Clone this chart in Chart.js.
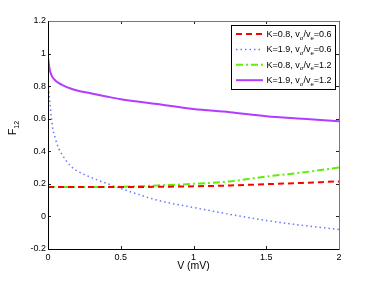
<!DOCTYPE html>
<html>
<head>
<meta charset="utf-8">
<script src="https://cdn.jsdelivr.net/npm/chart.js"></script>
<style>
  html, body { margin: 0; padding: 0; background: #fff; }
  #wrap { width: 374px; height: 281px; }
</style>
</head>
<body>
<div id="wrap"><canvas id="fChart" width="374" height="281"></canvas></div>
<script>
// Voltage samples (mV), denser near zero where the curves bend
const vPoints = [0, 0.005, 0.015, 0.03, 0.05, 0.075, 0.1, 0.15, 0.2, 0.3, 0.4, 0.5, 0.75, 1, 1.25, 1.5, 1.75, 2];

// F12 values
const redValues = [0.18, 0.18, 0.18, 0.18, 0.18, 0.18, 0.18, 0.18, 0.18, 0.18, 0.18, 0.18, 0.182, 0.185, 0.19, 0.198, 0.206, 0.215];
const blueValues = [0.85, 0.78, 0.68, 0.555, 0.48, 0.415, 0.375, 0.315, 0.28, 0.238, 0.204, 0.172, 0.1, 0.055, 0.013, -0.025, -0.055, -0.08];
const greenValues = [0.18, 0.18, 0.18, 0.18, 0.18, 0.18, 0.18, 0.18, 0.18, 0.18, 0.181, 0.182, 0.19, 0.2, 0.215, 0.245, 0.27, 0.3];
const purpleValues = [0.98, 0.94, 0.89, 0.857, 0.835, 0.818, 0.806, 0.787, 0.773, 0.755, 0.737, 0.72, 0.69, 0.66, 0.64, 0.615, 0.6, 0.585];

const seriesK = ["0.8", "1.9", "0.8", "1.9"];
const seriesRatio = ["0.6", "0.6", "1.2", "1.2"];

const xTicks = [0, 0.5, 1, 1.5, 2];
const yTicks = [-0.2, 0, 0.2, 0.4, 0.6, 0.8, 1, 1.2];

const FONT = "'Liberation Sans', Arial, sans-serif";

function toPoints(values) {
  return values.map((y, i) => ({ x: vPoints[i], y: y }));
}

// MATLAB style numbers: 1 not 1.0, 0.5 not .5
function fmt(v) {
  return String(Math.round(v * 10) / 10);
}

// Frame, inward ticks, axis titles and the legend
const matlabDecor = {
  id: "matlabDecor",
  afterDraw(chart) {
    const ctx = chart.ctx;
    const a = chart.chartArea;
    const xs = chart.scales.x;
    const ys = chart.scales.y;
    const tl = 3;

    ctx.save();
    ctx.lineWidth = 1;

    // ticks
    ctx.strokeStyle = "#222";
    ctx.beginPath();
    xTicks.forEach((v) => {
      const px = Math.round(xs.getPixelForValue(v)) + 0.5;
      ctx.moveTo(px, a.bottom);
      ctx.lineTo(px, a.bottom - tl);
      ctx.moveTo(px, a.top);
      ctx.lineTo(px, a.top + tl);
    });
    yTicks.forEach((v) => {
      const py = Math.round(ys.getPixelForValue(v)) + 0.5;
      ctx.moveTo(a.left, py);
      ctx.lineTo(a.left + tl, py);
      ctx.moveTo(a.right, py);
      ctx.lineTo(a.right - tl, py);
    });
    ctx.stroke();

    // frame
    const L = Math.round(a.left) + 0.5;
    const R = Math.round(a.right) + 0.5;
    const T = Math.round(a.top) + 0.5;
    const B = Math.round(a.bottom) + 0.5;
    ctx.strokeStyle = "#777";
    ctx.beginPath();
    ctx.moveTo(L, T);
    ctx.lineTo(R, T);
    ctx.lineTo(R, B);
    ctx.stroke();
    ctx.strokeStyle = "#000";
    ctx.beginPath();
    ctx.moveTo(L, T);
    ctx.lineTo(L, B);
    ctx.lineTo(R, B);
    ctx.stroke();

    // x title
    ctx.fillStyle = "#000";
    ctx.font = "10.5px " + FONT;
    ctx.textAlign = "center";
    ctx.textBaseline = "middle";
    ctx.fillText("V (mV)", (a.left + a.right) / 2, 266);

    // y title F_12
    ctx.save();
    ctx.translate(16, 128);
    ctx.rotate(-Math.PI / 2);
    ctx.textAlign = "left";
    ctx.textBaseline = "alphabetic";
    ctx.font = "10.5px " + FONT;
    const fw = ctx.measureText("F").width;
    ctx.font = "7px " + FONT;
    const sw = ctx.measureText("12").width;
    const x0 = -(fw + sw) / 2;
    ctx.font = "10.5px " + FONT;
    ctx.fillText("F", x0, 0);
    ctx.font = "7px " + FONT;
    ctx.fillText("12", x0 + fw, 3);
    ctx.restore();

    // legend
    const lx = 231.5, ly = 25.5, lw = 104, lh = 64;
    ctx.fillStyle = "#fff";
    ctx.fillRect(lx, ly, lw, lh);
    ctx.strokeStyle = "#000";
    ctx.strokeRect(lx, ly, lw, lh);

    chart.data.datasets.forEach((ds, i) => {
      const rowY = 34 + i * 15.4;
      ctx.save();
      ctx.strokeStyle = ds.borderColor;
      ctx.lineWidth = ds.borderWidth;
      ctx.setLineDash(ds.borderDash || []);
      ctx.beginPath();
      ctx.moveTo(236, rowY);
      ctx.lineTo(263, rowY);
      ctx.stroke();
      ctx.restore();

      let tx = 266.5;
      const base = rowY + 3;
      ctx.fillStyle = "#000";
      ctx.textAlign = "left";
      ctx.textBaseline = "alphabetic";
      const parts = [
        ["K=" + seriesK[i] + ", v", 9, 0],
        ["\u03c3", 6, 2.5],
        ["/v", 9, 0],
        ["e", 6, 2.5],
        ["=" + seriesRatio[i], 9, 0],
      ];
      parts.forEach(([txt, size, dy]) => {
        ctx.font = size + "px " + FONT;
        ctx.fillText(txt, tx, base + dy);
        tx += ctx.measureText(txt).width;
      });
    });

    ctx.restore();
  },
};

new Chart(document.getElementById("fChart"), {
  type: "line",
  data: {
    datasets: [
      {
        label: "K=0.8, v\u03c3/ve=0.6",
        data: toPoints(redValues),
        borderColor: "#ff0000",
        borderWidth: 2,
        borderDash: [6, 4],
      },
      {
        label: "K=1.9, v\u03c3/ve=0.6",
        data: toPoints(blueValues),
        borderColor: "#6a78ff",
        borderWidth: 1.5,
        borderDash: [1.5, 3],
      },
      {
        label: "K=0.8, v\u03c3/ve=1.2",
        data: toPoints(greenValues),
        borderColor: "#5ef000",
        borderWidth: 2,
        borderDash: [7, 3, 2, 3],
      },
      {
        label: "K=1.9, v\u03c3/ve=1.2",
        data: toPoints(purpleValues),
        borderColor: "#b23cff",
        borderWidth: 2,
      },
    ],
  },
  options: {
    responsive: false,
    animation: false,
    devicePixelRatio: 1,
    layout: { padding: { top: 21, right: 35, left: 0, bottom: 0 } },
    elements: {
      point: { radius: 0 },
      line: { cubicInterpolationMode: "monotone", fill: false },
    },
    plugins: {
      legend: { display: false },
      tooltip: { enabled: false },
    },
    scales: {
      x: {
        type: "linear",
        min: 0,
        max: 2,
        afterFit: (s) => { s.height = 32; },
        afterBuildTicks: (s) => { s.ticks = xTicks.map((v) => ({ value: v })); },
        grid: { display: false, drawTicks: false },
        border: { display: false },
        ticks: {
          padding: 3,
          color: "#000",
          font: { family: FONT, size: 9 },
          maxRotation: 0,
          autoSkip: false,
          callback: (v) => fmt(v),
        },
      },
      y: {
        type: "linear",
        min: -0.2,
        max: 1.2,
        afterFit: (s) => { s.width = 48; },
        afterBuildTicks: (s) => { s.ticks = yTicks.map((v) => ({ value: v })); },
        grid: { display: false, drawTicks: false },
        border: { display: false },
        ticks: {
          padding: 2,
          color: "#000",
          font: { family: FONT, size: 9 },
          autoSkip: false,
          callback: (v) => fmt(v),
        },
      },
    },
  },
  plugins: [matlabDecor],
});
</script>
</body>
</html>
